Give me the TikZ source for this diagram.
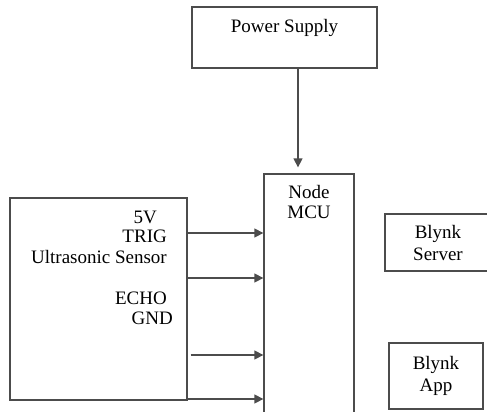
\documentclass[tikz,border=0pt]{standalone}
\usepackage{fontspec}
\setmainfont{Liberation Serif}
\usepackage{xcolor}
\usetikzlibrary{arrows.meta}

\tikzset{
    box/.style={draw=black!70, line width=1.3pt, rectangle, inner sep=0pt},
    txt/.style={inner sep=0pt, text=black, font=\fontsize{19}{22}\selectfont},
    link/.style={draw=black!70, line width=1.3pt, -{Triangle[length=9pt,width=9pt]}}
}

\begin{document}
\begin{tikzpicture}[x=1pt, y=-1pt]
    \useasboundingbox (0,0) rectangle (487,412);

    \node[box, minimum width=185pt, minimum height=61pt] (power) at (284.5,37.5) {};
    \node[box, minimum width=90pt, minimum height=260pt] (mcu) at (309,304) {};
    \node[box, minimum width=177pt, minimum height=202pt] (sensor) at (98.5,299) {};
    \node[box, txt, align=center, minimum width=106pt, minimum height=57pt] (server) at (438,242.5) {Blynk\\Server};
    \node[box, txt, align=center, minimum width=94pt, minimum height=66pt] (app) at (436,376) {Blynk\\App};

    \node[txt, anchor=base] (powertxt) at (284.5,33) {Power Supply};
    \node[txt, anchor=base] (nodetxt) at (309,198) {Node};
    \node[txt, anchor=base] (mcutxt) at (309,218) {MCU};

    \node[txt, anchor=base east] (vcc) at (157,223) {5V};
    \node[txt, anchor=base east] (trig) at (167,242) {TRIG};
    \node[txt, anchor=base east] (name) at (167,263) {Ultrasonic Sensor};
    \node[txt, anchor=base east] (echo) at (167,304) {ECHO};
    \node[txt, anchor=base east] (gnd) at (173,324) {GND};

    \draw[link, shorten >=6pt] ([xshift=13.5pt]power.south) -- ([xshift=-11pt]mcu.north);
    \draw[link] (sensor.east |- 0,233) -- (mcu.west |- 0,233);
    \draw[link] (sensor.east |- 0,278) -- (mcu.west |- 0,278);
    \draw[link] ([xshift=3pt]sensor.east |- 0,355) -- (mcu.west |- 0,355);
    \draw[link] (sensor.east |- 0,399) -- (mcu.west |- 0,399);
\end{tikzpicture}
\end{document}
